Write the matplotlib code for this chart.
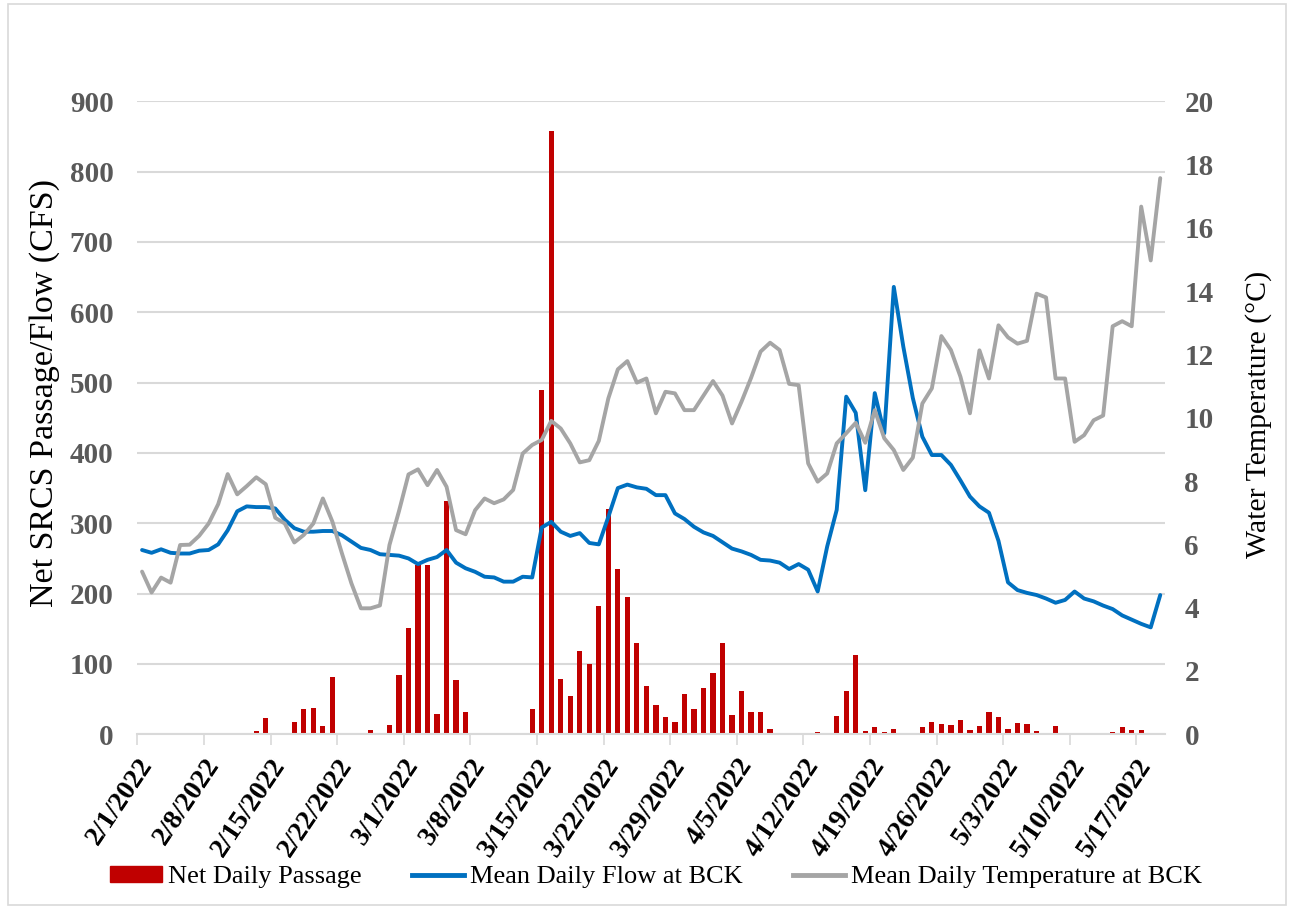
import numpy as np
import pandas as pd
import matplotlib
matplotlib.use("Agg")
import matplotlib.pyplot as plt
import matplotlib.dates as mdates
from matplotlib.patches import Patch, Rectangle
from matplotlib.lines import Line2D

# ---------------- data ----------------
start_date = "2022-02-01"

passage = [0, 0, 0, 0, 0, 0, 0, 0, 0, 0,
           0, 2, 5, 23, 1, 0, 18, 36, 38, 12,
           81, 0, 0, 1, 6, 2, 13, 85, 151, 241,
           240, 29, 332, 77, 31, 0, 0, 0, 0, 0,
           0, 36, 489, 858, 79, 55, 118, 100, 183, 320,
           235, 195, 130, 69, 42, 25, 18, 58, 36, 66,
           87, 130, 27, 61, 31, 31, 8, 0, 0, 0,
           2, 3, 0, 26, 61, 113, 5, 11, 3, 7,
           1, 1, 10, 17, 15, 13, 21, 6, 12, 32,
           24, 7, 16, 14, 5, 2, 12, 0, 2, 1,
           0, 0, 3, 10, 6, 6, 0, 0]

flow = [262, 258, 263, 258, 257, 257, 261, 262, 270, 290,
        317, 324, 323, 323, 321, 305, 293, 288, 288, 289,
        289, 283, 274, 265, 262, 256, 255, 254, 250, 242,
        248, 252, 262, 244, 236, 231, 224, 223, 217, 217,
        224, 223, 294, 302, 288, 282, 286, 272, 270, 309,
        350, 355, 351, 349, 340, 340, 314, 306, 295, 287,
        282, 273, 264, 260, 255, 248, 247, 244, 235, 242,
        234, 203, 267, 319, 480, 457, 347, 485, 428, 636,
        551, 478, 423, 397, 397, 383, 361, 338, 324, 315,
        275, 216, 205, 201, 198, 193, 187, 191, 203, 193,
        189, 183, 178, 169, 163, 157, 152, 198]

temperature = [5.14, 4.48, 4.95, 4.79, 5.98, 5.99, 6.27, 6.66, 7.27, 8.22,
               7.58, 7.84, 8.12, 7.90, 6.84, 6.66, 6.06, 6.30, 6.66, 7.45,
               6.72, 5.72, 4.77, 3.98, 3.98, 4.07, 5.98, 7.05, 8.21, 8.37,
               7.87, 8.35, 7.82, 6.45, 6.32, 7.08, 7.45, 7.30, 7.42, 7.72,
               8.87, 9.14, 9.30, 9.90, 9.66, 9.19, 8.59, 8.66, 9.27, 10.61,
               11.53, 11.79, 11.11, 11.24, 10.14, 10.82, 10.77, 10.24, 10.24, 10.70,
               11.16, 10.70, 9.82, 10.51, 11.26, 12.09, 12.37, 12.14, 11.07, 11.03,
               8.56, 7.98, 8.24, 9.19, 9.51, 9.84, 9.21, 10.24, 9.35, 8.98,
               8.35, 8.74, 10.45, 10.93, 12.58, 12.14, 11.30, 10.14, 12.13, 11.24,
               12.92, 12.54, 12.34, 12.43, 13.92, 13.80, 11.24, 11.24, 9.24, 9.45,
               9.92, 10.07, 12.89, 13.05, 12.89, 16.67, 14.97, 17.57]

tick_labels = ["2/1/2022", "2/8/2022", "2/15/2022", "2/22/2022", "3/1/2022",
               "3/8/2022", "3/15/2022", "3/22/2022", "3/29/2022", "4/5/2022",
               "4/12/2022", "4/19/2022", "4/26/2022", "5/3/2022", "5/10/2022",
               "5/17/2022"]

left_ticks = [0, 100, 200, 300, 400, 500, 600, 700, 800, 900]
right_ticks = [0, 2, 4, 6, 8, 10, 12, 14, 16, 18, 20]

series_names = ["Net Daily Passage", "Mean Daily Flow at BCK",
                "Mean Daily Temperature at BCK"]

# ---------------- style ----------------
RED = "#C00000"
BLUE = "#0070C0"
GRAY = "#A5A5A5"
GRID = "#D9D9D9"
TICKC = "#595959"

plt.rcParams["font.family"] = ["Liberation Serif", "DejaVu Serif"]

W, H = 1290, 907
fig = plt.figure(figsize=(W / 100, H / 100), dpi=100)
fig.patch.set_facecolor("white")
fig.patches.append(Rectangle((8 / W, 2 / H), (1286 - 8) / W, (903 - 2) / H,
                             transform=fig.transFigure, fill=False,
                             edgecolor=GRID, lw=1.2))

L, R, T, B = 137.3, 1165, 101.2, 734.3
ax = fig.add_axes([L / W, 1 - B / H, (R - L) / W, (B - T) / H])
ax2 = ax.twinx()

dates = pd.date_range(start_date, periods=len(flow), freq="D")
xnum = mdates.date2num(dates.to_pydatetime()) + 0.5

ax.bar(xnum, passage, width=0.55, color=RED, zorder=2)
ax.plot(xnum, flow, color=BLUE, lw=2.8, zorder=3, solid_joinstyle="round",
        solid_capstyle="round")
ax2.plot(xnum, temperature, color=GRAY, lw=2.8, zorder=3,
         solid_joinstyle="round", solid_capstyle="round")

x0 = mdates.date2num(dates[0].to_pydatetime())
ax.set_xlim(x0, x0 + len(flow))
ax.set_ylim(0, 900)
ax2.set_ylim(0, 20)

tick_dates = pd.to_datetime(tick_labels, format="%m/%d/%Y")
ax.set_xticks(mdates.date2num(tick_dates.to_pydatetime()))
ax.set_xticklabels(tick_labels, rotation=56, ha="right", va="top",
                   rotation_mode="anchor", fontweight="bold", fontsize=20,
                   color="black")
ax.tick_params(axis="x", direction="out", length=8, width=1.2, color=GRID,
               pad=6)

ax.set_yticks(left_ticks)
ax.set_yticklabels([str(v) for v in left_ticks], fontweight="bold",
                   fontsize=21, color=TICKC)
ax.tick_params(axis="y", length=0, pad=17)
ax2.set_yticks(right_ticks)
ax2.set_yticklabels([str(v) for v in right_ticks], fontweight="bold",
                    fontsize=21, color=TICKC)
ax2.tick_params(axis="y", length=0, pad=14)

ax.yaxis.grid(True, color=GRID, lw=1.5)
ax.set_axisbelow(True)
for s in ["top", "left", "right"]:
    ax.spines[s].set_visible(False)
    ax2.spines[s].set_visible(False)
ax.spines["bottom"].set_color(GRID)
ax.spines["bottom"].set_linewidth(1.5)
ax2.spines["bottom"].set_visible(False)

ax.set_ylabel("Net SRCS Passage/Flow (CFS)", fontsize=24.5, color="black")
ax.yaxis.set_label_coords((60 - L) / (R - L), 0.539)
ax2.set_ylabel("Water Temperature (°C)", fontsize=21.5, color="black",
               rotation=90)
ax2.yaxis.set_label_coords((1245 - L) / (R - L), 0.505)

handles = [Patch(facecolor=RED, edgecolor=RED),
           Line2D([], [], color=BLUE, lw=3.5),
           Line2D([], [], color=GRAY, lw=3.5)]
fig.legend(handles, series_names, loc="center", ncol=3,
           bbox_to_anchor=(656 / W, 1 - 877 / H), frameon=False, fontsize=19,
           handlelength=1.97, handleheight=0.6, handletextpad=0.23,
           columnspacing=1.9)

fig.savefig("out.png", dpi=100, facecolor="white")
